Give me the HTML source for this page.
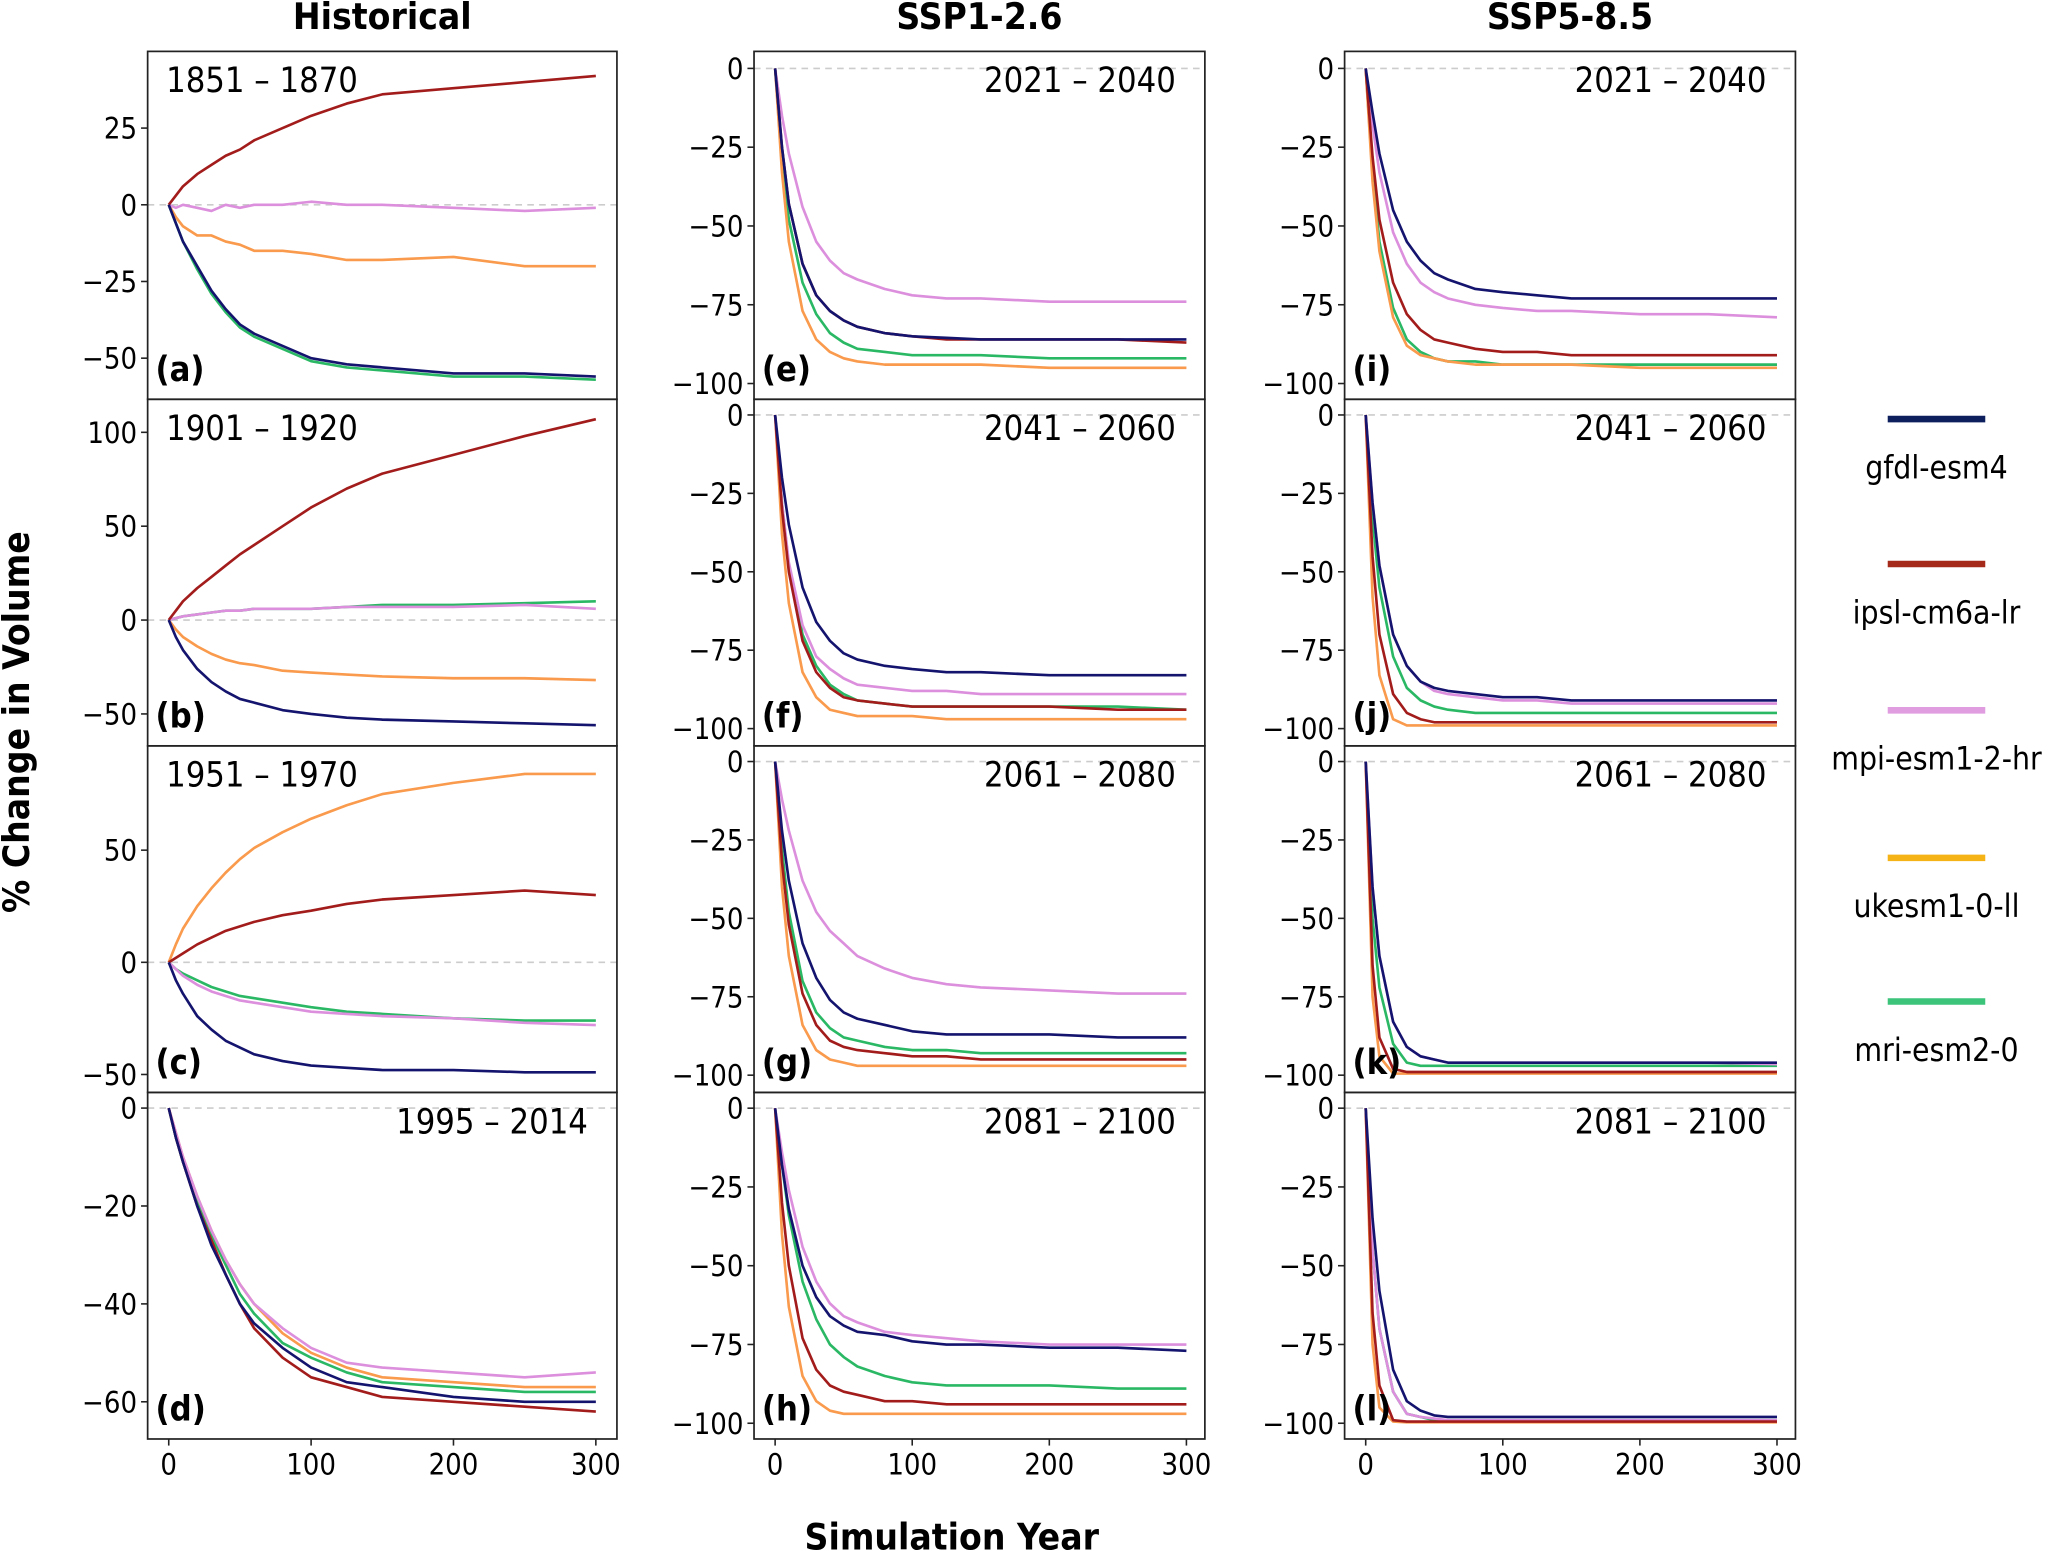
<!DOCTYPE html>
<html><head><meta charset="utf-8"><style>
html,body{margin:0;padding:0;background:#fff}
svg{display:block}
text{font-family:"DejaVu Sans Condensed","Liberation Sans",sans-serif;fill:#000}
</style></head><body>
<svg id="fig" width="2067" height="1551" viewBox="0 0 1568 1177" preserveAspectRatio="none" xmlns="http://www.w3.org/2000/svg">
<g id="root"></g>
</svg>
<script>
const years = [0,5,10,20,30,40,50,60,80,100,125,150,200,250,300];
const models = ["gfdl-esm4","ipsl-cm6a-lr","mpi-esm1-2-hr","ukesm1-0-ll","mri-esm2-0"];
const lineColors = ["#14146e","#a31c1c","#dc8fdc","#f99a4c","#2bb865"];
const legendColors = ["#0d1f5c","#a52a1a","#e09ee0","#f5b316","#3cc47a"];
const panelLetters = ["a","b","c","d","e","f","g","h","i","j","k","l"];
const periods = ["1851 – 1870","1901 – 1920","1951 – 1970","1995 – 2014","2021 – 2040","2041 – 2060","2061 – 2080","2081 – 2100","2021 – 2040","2041 – 2060","2061 – 2080","2081 – 2100"];
const colTitles = ["Historical","SSP1-2.6","SSP5-8.5"];
const xTicks = [0,100,200,300];
const yTicksA = [25,0,-25,-50];
const yTicksB = [100,50,0,-50];
const yTicksC = [50,0,-50];
const yTicksD = [0,-20,-40,-60];
const yTicksSSP = [0,-25,-50,-75,-100];
const yDomains = [[-63.4,50],[-67,117.6],[-58,96.5],[-67.6,3.2],[-105,5.4],[-105.5,5],[-105.5,5],[-105,5],[-105,5.4],[-105.5,5],[-105.5,5],[-105,5]];
// series values per panel: order gfdl, ipsl, mpi, ukesm, mri
const pA_gfdl=[0,-6,-12,-20,-28,-34,-39,-42,-46,-50,-52,-53,-55,-55,-56];
const pA_ipsl=[0,3,6,10,13,16,18,21,25,29,33,36,38,40,42];
const pA_mpi=[0,-1,0,-1,-2,0,-1,0,0,1,0,0,-1,-2,-1];
const pA_uk=[0,-4,-7,-10,-10,-12,-13,-15,-15,-16,-18,-18,-17,-20,-20];
const pA_mri=[0,-6,-12,-21,-29,-35,-40,-43,-47,-51,-53,-54,-56,-56,-57];
const pB_gfdl=[0,-9,-16,-26,-33,-38,-42,-44,-48,-50,-52,-53,-54,-55,-56];
const pB_ipsl=[0,5,10,17,23,29,35,40,50,60,70,78,88,98,107];
const pB_mpi=[0,1,2,3,4,5,5,6,6,6,7,7,7,8,6];
const pB_uk=[0,-5,-9,-14,-18,-21,-23,-24,-27,-28,-29,-30,-31,-31,-32];
const pB_mri=[0,1,2,3,4,5,5,6,6,6,7,8,8,9,10];
const pC_gfdl=[0,-8,-14,-24,-30,-35,-38,-41,-44,-46,-47,-48,-48,-49,-49];
const pC_ipsl=[0,2,4,8,11,14,16,18,21,23,26,28,30,32,30];
const pC_mpi=[0,-3,-6,-10,-13,-15,-17,-18,-20,-22,-23,-24,-25,-27,-28];
const pC_uk=[0,8,15,25,33,40,46,51,58,64,70,75,80,84,84];
const pC_mri=[0,-3,-5,-8,-11,-13,-15,-16,-18,-20,-22,-23,-25,-26,-26];
const pD_gfdl=[0,-6,-11,-20,-28,-34,-40,-44,-49,-53,-56,-57,-59,-60,-60];
const pD_ipsl=[0,-6,-11,-20,-27,-34,-40,-45,-51,-55,-57,-59,-60,-61,-62];
const pD_mpi=[0,-5,-10,-18,-25,-31,-36,-40,-45,-49,-52,-53,-54,-55,-54];
const pD_uk=[0,-5,-10,-18,-25,-31,-36,-40,-46,-50,-53,-55,-56,-57,-57];
const pD_mri=[0,-6,-11,-19,-26,-32,-38,-42,-48,-51,-54,-56,-57,-58,-58];
const pE_gfdl=[0,-25,-43,-62,-72,-77,-80,-82,-84,-85,-85.5,-86,-86,-86,-86];
const pE_ipsl=[0,-25,-43,-62,-72,-77,-80,-82,-84,-85,-86,-86,-86,-86,-87];
const pE_mpi=[0,-15,-27,-44,-55,-61,-65,-67,-70,-72,-73,-73,-74,-74,-74];
const pE_uk=[0,-33,-55,-77,-86,-90,-92,-93,-94,-94,-94,-94,-95,-95,-95];
const pE_mri=[0,-28,-48,-68,-78,-84,-87,-89,-90,-91,-91,-91,-92,-92,-92];
const pF_gfdl=[0,-20,-35,-55,-66,-72,-76,-78,-80,-81,-82,-82,-83,-83,-83];
const pF_ipsl=[0,-30,-50,-72,-82,-87,-90,-91,-92,-93,-93,-93,-93,-94,-94];
const pF_mpi=[0,-28,-47,-67,-77,-81,-84,-86,-87,-88,-88,-89,-89,-89,-89];
const pF_uk=[0,-38,-60,-82,-90,-94,-95,-96,-96,-96,-97,-97,-97,-97,-97];
const pF_mri=[0,-28,-48,-70,-80,-86,-89,-91,-92,-93,-93,-93,-93,-93,-94];
const pG_gfdl=[0,-22,-38,-58,-69,-76,-80,-82,-84,-86,-87,-87,-87,-88,-88];
const pG_ipsl=[0,-32,-52,-74,-84,-89,-91,-92,-93,-94,-94,-95,-95,-95,-95];
const pG_mpi=[0,-12,-22,-38,-48,-54,-58,-62,-66,-69,-71,-72,-73,-74,-74];
const pG_uk=[0,-40,-62,-84,-92,-95,-96,-97,-97,-97,-97,-97,-97,-97,-97];
const pG_mri=[0,-28,-48,-70,-80,-85,-88,-89,-91,-92,-92,-93,-93,-93,-93];
const pH_gfdl=[0,-18,-32,-50,-60,-66,-69,-71,-72,-74,-75,-75,-76,-76,-77];
const pH_ipsl=[0,-30,-50,-73,-83,-88,-90,-91,-93,-93,-94,-94,-94,-94,-94];
const pH_mpi=[0,-14,-26,-44,-55,-62,-66,-68,-71,-72,-73,-74,-75,-75,-75];
const pH_uk=[0,-40,-63,-85,-93,-96,-97,-97,-97,-97,-97,-97,-97,-97,-97];
const pH_mri=[0,-18,-34,-55,-67,-75,-79,-82,-85,-87,-88,-88,-88,-89,-89];
const pI_gfdl=[0,-14,-27,-45,-55,-61,-65,-67,-70,-71,-72,-73,-73,-73,-73];
const pI_ipsl=[0,-28,-48,-68,-78,-83,-86,-87,-89,-90,-90,-91,-91,-91,-91];
const pI_mpi=[0,-18,-33,-52,-62,-68,-71,-73,-75,-76,-77,-77,-78,-78,-79];
const pI_uk=[0,-36,-58,-79,-88,-91,-92,-93,-94,-94,-94,-94,-95,-95,-95];
const pI_mri=[0,-33,-55,-76,-86,-90,-92,-93,-93,-94,-94,-94,-94,-94,-94];
const pJ_gfdl=[0,-28,-48,-70,-80,-85,-87,-88,-89,-90,-90,-91,-91,-91,-91];
const pJ_ipsl=[0,-45,-70,-89,-95,-97,-98,-98,-98,-98,-98,-98,-98,-98,-98];
const pJ_mpi=[0,-28,-48,-70,-80,-85,-88,-89,-90,-91,-91,-92,-92,-92,-92];
const pJ_uk=[0,-58,-83,-97,-99,-99,-99,-99,-99,-99,-99,-99,-99,-99,-99];
const pJ_mri=[0,-33,-55,-77,-87,-91,-93,-94,-95,-95,-95,-95,-95,-95,-95];
const pK_gfdl=[0,-40,-62,-83,-91,-94,-95,-96,-96,-96,-96,-96,-96,-96,-96];
const pK_ipsl=[0,-65,-88,-98,-99,-99,-99,-99,-99,-99,-99,-99,-99,-99,-99];
const pK_mpi=[0,-40,-62,-83,-91,-94,-95,-96,-96,-96,-96,-96,-96,-96,-96.5];
const pK_uk=[0,-75,-94,-99.5,-99.5,-99.5,-99.5,-99.5,-99.5,-99.5,-99.5,-99.5,-99.5,-99.5,-99.5];
const pK_mri=[0,-50,-72,-90,-96,-97,-97,-97,-97,-97,-97,-97,-97,-97,-97];
const pL_gfdl=[0,-35,-58,-83,-93,-96,-97.5,-98,-98,-98,-98,-98,-98,-98,-98];
const pL_ipsl=[0,-65,-88,-99,-99.5,-99.5,-99.5,-99.5,-99.5,-99.5,-99.5,-99.5,-99.5,-99.5,-99.5];
const pL_mpi=[0,-45,-70,-90,-97,-98,-98.5,-99,-99,-99,-99,-99,-99,-99,-99];
const pL_uk=[0,-75,-95,-99.5,-99.7,-99.7,-99.7,-99.7,-99.7,-99.7,-99.7,-99.7,-99.7,-99.7,-99.7];
const pL_mri=[0,-45,-70,-90,-97,-98,-99,-99,-99,-99,-99,-99,-99,-99,-99];

const panelSeries = [
 [pA_gfdl,pA_ipsl,pA_mpi,pA_uk,pA_mri],[pB_gfdl,pB_ipsl,pB_mpi,pB_uk,pB_mri],
 [pC_gfdl,pC_ipsl,pC_mpi,pC_uk,pC_mri],[pD_gfdl,pD_ipsl,pD_mpi,pD_uk,pD_mri],
 [pE_gfdl,pE_ipsl,pE_mpi,pE_uk,pE_mri],[pF_gfdl,pF_ipsl,pF_mpi,pF_uk,pF_mri],
 [pG_gfdl,pG_ipsl,pG_mpi,pG_uk,pG_mri],[pH_gfdl,pH_ipsl,pH_mpi,pH_uk,pH_mri],
 [pI_gfdl,pI_ipsl,pI_mpi,pI_uk,pI_mri],[pJ_gfdl,pJ_ipsl,pJ_mpi,pJ_uk,pJ_mri],
 [pK_gfdl,pK_ipsl,pK_mpi,pK_uk,pK_mri],[pL_gfdl,pL_ipsl,pL_mpi,pL_uk,pL_mri]];
const yTickSets = [yTicksA,yTicksB,yTicksC,yTicksD,yTicksSSP,yTicksSSP,yTicksSSP,yTicksSSP,yTicksSSP,yTicksSSP,yTicksSSP,yTicksSSP];
// drawing order (back to front)
const drawOrder = [4,3,2,1,0];

const NS="http://www.w3.org/2000/svg";
const root=document.getElementById('root');
function mk(tag,attrs,parent){const e=document.createElementNS(NS,tag);for(const k in attrs)e.setAttribute(k,attrs[k]);(parent||root).appendChild(e);return e;}
const colGeom=[{x0:112,x1:468,z:128,t:452},{x0:572,x1:914,z:588,t:900},{x0:1020,x1:1362,z:1036,t:1348}];
const rowGeom=[[39,303],[303,566],[566,829],[829,1092]];
const fmt=v=>(v<0?"\u2212"+Math.abs(v):""+v);

colTitles.forEach((t,c)=>{
  const g=colGeom[c];
  const e=mk('text',{x:(g.x0+g.x1)/2,y:22,'text-anchor':'middle','font-size':28,'font-weight':'bold','font-family':'Liberation Sans, sans-serif'});
  e.textContent=t;
  
  
});

for(let p=0;p<12;p++){
  const c=Math.floor(p/4), r=p%4, g=colGeom[c], rg=rowGeom[r];
  const dom=yDomains[p];
  const xs=v=>g.z+(v/300)*(g.t-g.z);
  const ys=v=>rg[1]-(v-dom[0])/(dom[1]-dom[0])*(rg[1]-rg[0]);
  const pg=mk('g',{});
  
  
  const zl=mk('line',{x1:g.x0,x2:g.x1,y1:ys(0),y2:ys(0),stroke:'#cccccc','stroke-width':1.2,'stroke-dasharray':'5,4'},pg);
  
  
  drawOrder.forEach(m=>{
    const vals=panelSeries[p][m];
    const pts=years.map((yr,i)=>xs(yr).toFixed(1)+','+ys(vals[i]).toFixed(1)).join(' ');
    const pl=mk('polyline',{points:pts,fill:'none',stroke:lineColors[m],'stroke-width':2,'stroke-linejoin':'round'},pg);
    
    
  });
  const fr=mk('rect',{x:g.x0,y:rg[0],width:g.x1-g.x0,height:rg[1]-rg[0],fill:'none',stroke:'#222','stroke-width':1.3},pg);
  
  
  yTickSets[p].forEach(v=>{
    const y=ys(v);
    mk('line',{x1:g.x0-5,x2:g.x0,y1:y,y2:y,stroke:'#222','stroke-width':1.2},pg);
    const t=mk('text',{x:g.x0-8,y:y+8,'text-anchor':'end','font-size':22},pg);
    t.textContent=fmt(v);
    
    
  });
  if(r===3){
    xTicks.forEach(v=>{
      const x=xs(v);
      mk('line',{x1:x,x2:x,y1:rg[1],y2:rg[1]+5,stroke:'#222','stroke-width':1.2},pg);
      const t=mk('text',{x:x,y:rg[1]+27,'text-anchor':'middle','font-size':22},pg);
      t.textContent=v;
      
      
    });
  }
  const leftPeriod=(c===0&&r<3);
  const pt=mk('text',{x:leftPeriod?g.x0+14:g.x1-22,y:rg[0]+31,'text-anchor':leftPeriod?'start':'end','font-size':26},pg);
  pt.textContent=periods[p];
  
  
  const lt=mk('text',{x:g.x0+6,y:rg[1]-14,'font-size':26,'font-weight':'bold'},pg);
  lt.textContent='('+panelLetters[p]+')';
  
  
}

const yl=mk('text',{x:0,y:0,transform:'translate(22,548) rotate(-90)','text-anchor':'middle','font-size':28,'font-weight':'bold','font-family':'Liberation Sans, sans-serif'});
yl.textContent='% Change in Volume';


const xl=mk('text',{x:722,y:1176,'text-anchor':'middle','font-size':28,'font-weight':'bold','font-family':'Liberation Sans, sans-serif'});
xl.textContent='Simulation Year';



const legY=[318,428,539,651,760];
models.forEach((m,i)=>{
  const lg=mk('g',{});
  
  
  mk('line',{x1:1432,x2:1506,y1:legY[i],y2:legY[i],stroke:legendColors[i],'stroke-width':5},lg);
  const t=mk('text',{x:1469,y:legY[i]+45,'text-anchor':'middle','font-size':24,'font-family':'Liberation Sans, sans-serif'},lg);
  t.textContent=m;
});
</script>
</body></html>
